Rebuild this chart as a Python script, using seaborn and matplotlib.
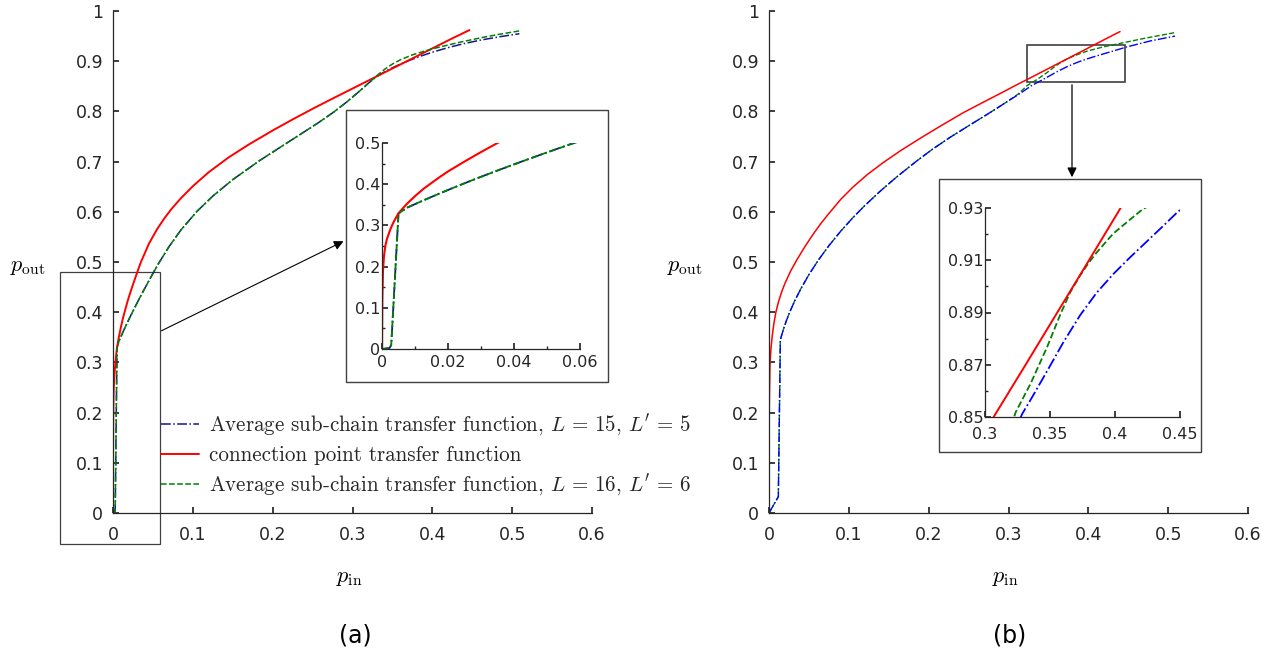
import numpy as np
import pandas as pd
import matplotlib
matplotlib.use('Agg')
import matplotlib.pyplot as plt
import matplotlib.patches as patches
from matplotlib.ticker import FuncFormatter, MultipleLocator, FixedLocator
import seaborn as sns

# ---- panel (a): values ----
a_red_x = [0, 0.0001, 0.0003, 0.0006, 0.001, 0.0015, 0.0025, 0.0035, 0.005, 0.0075, 0.01,
           0.0126, 0.015, 0.0176, 0.02, 0.025, 0.03, 0.035, 0.045, 0.055, 0.065, 0.0735,
           0.085, 0.1, 0.12, 0.1445, 0.17, 0.2, 0.225, 0.251, 0.275, 0.3, 0.325, 0.35,
           0.375, 0.4, 0.425, 0.4465]
a_red_y = [0, 0.12, 0.19, 0.225, 0.25, 0.267, 0.29, 0.308, 0.3296, 0.352, 0.371,
           0.389, 0.403, 0.418, 0.431, 0.455, 0.478, 0.5, 0.5365, 0.5648, 0.5885, 0.6061,
           0.627, 0.651, 0.679, 0.708, 0.734, 0.762, 0.784, 0.806, 0.8255, 0.8455, 0.8655, 0.8855,
           0.9055, 0.9255, 0.9455, 0.962]

# blue and green coincide up to p_in ~ 0.32
a_common_x = [0, 0.0023, 0.0028, 0.005, 0.0076, 0.0125, 0.0176, 0.0225, 0.0277, 0.033,
              0.0378, 0.043, 0.0479, 0.0525, 0.057, 0.07, 0.085, 0.105, 0.125, 0.15, 0.184,
              0.22, 0.257, 0.276, 0.2927, 0.31, 0.32]
a_common_y = [0, 0.0024, 0.01, 0.329, 0.343, 0.3606, 0.378, 0.3942, 0.4108, 0.4272,
              0.4416, 0.4569, 0.4711, 0.4842, 0.4968, 0.5302, 0.5636, 0.6006, 0.6313, 0.6641, 0.7024,
              0.7393, 0.7772, 0.7981, 0.8186, 0.842, 0.8563]
a_blue_x = a_common_x + [0.33, 0.343, 0.355, 0.37, 0.385, 0.40, 0.42, 0.44, 0.46, 0.485, 0.509]
a_blue_y = a_common_y + [0.8691, 0.8816, 0.8907, 0.9008, 0.9099, 0.9179, 0.9272, 0.9352, 0.9419,
                         0.9489, 0.9547]
a_green_x = a_common_x + [0.33, 0.34, 0.35, 0.36, 0.375, 0.39, 0.41, 0.435, 0.46, 0.485, 0.509]
a_green_y = a_common_y + [0.8706, 0.8836, 0.8943, 0.9028, 0.9126, 0.9201, 0.9286, 0.938, 0.9464,
                          0.9539, 0.9603]

# ---- panel (b) ----
b_red_x = [0, 0.0001, 0.0003, 0.0006, 0.0013, 0.0025, 0.004, 0.006, 0.0086, 0.012, 0.016,
           0.02, 0.027, 0.0347, 0.045, 0.055, 0.065, 0.0743, 0.09, 0.105, 0.123, 0.143, 0.165,
           0.19, 0.215, 0.2434, 0.27, 0.2964, 0.307, 0.33, 0.355, 0.38, 0.402, 0.42, 0.4397]
b_red_y = [0, 0.12, 0.20, 0.24, 0.30, 0.328, 0.352, 0.376, 0.40, 0.4213, 0.4411,
           0.4575, 0.4816, 0.5039, 0.5307, 0.5547, 0.5767, 0.5953, 0.625, 0.649, 0.674, 0.698, 0.722,
           0.747, 0.771, 0.7975, 0.8196, 0.8413, 0.8503, 0.869, 0.8895, 0.91, 0.9281, 0.943, 0.959]

b_common_x = [0, 0.0117, 0.0142, 0.016, 0.018, 0.022, 0.0263, 0.0326, 0.04, 0.05, 0.0618,
              0.075, 0.09, 0.105, 0.12, 0.14, 0.16, 0.185, 0.205, 0.2267, 0.25, 0.27, 0.285,
              0.30]
b_common_y = [0, 0.0325, 0.3446, 0.355, 0.3655, 0.3841, 0.4015, 0.4239, 0.447, 0.4748, 0.5037,
              0.5324, 0.5617, 0.5882, 0.6124, 0.6421, 0.6695, 0.7012, 0.7249, 0.7482, 0.7713, 0.7909,
              0.8058, 0.8212]
b_blue_x = b_common_x + [0.315, 0.32873, 0.33509, 0.3478, 0.36051, 0.37323, 0.38594, 0.39865,
                         0.41137, 0.42408, 0.43679, 0.44823, 0.478, 0.5086]
b_blue_y = b_common_y + [0.8362, 0.8513, 0.8566, 0.8676, 0.8788, 0.8890, 0.8976, 0.9047,
                         0.911, 0.917, 0.923, 0.9285, 0.9405, 0.950]
b_green_x = b_common_x + [0.312, 0.32365, 0.33509, 0.3478, 0.35797, 0.3656, 0.37323, 0.37958,
                          0.38594, 0.39865, 0.41137, 0.41975, 0.44, 0.47, 0.5086]
b_green_y = b_common_y + [0.8344, 0.8519, 0.8628, 0.8768, 0.8893, 0.8978, 0.9042, 0.9089,
                          0.9130, 0.9202, 0.9255, 0.9289, 0.9355, 0.9455, 0.957]

legend_labels = [r"Average sub-chain transfer function, $L\,=\,15$, $L'\,=\,5$",
                 "connection point transfer function",
                 r"Average sub-chain transfer function, $L\,=\,16$, $L'\,=\,6$"]

sns.set_theme(style='ticks')
plt.rcParams['font.family'] = ['DejaVu Sans']
plt.rcParams['mathtext.fontset'] = 'cm'

W, H = 1275, 658
fig = plt.figure(figsize=(W / 100, H / 100), dpi=100)
AX_COL = '#262626'
RED, GREEN = '#ff0000', '#008000'
NAVY, BLUE = '#141490', '#0000ff'


def px_axes(x0, y0, x1, y1):
    # pixel box (top-left origin) -> figure axes
    return fig.add_axes([x0 / W, 1 - y1 / H, (x1 - x0) / W, (y1 - y0) / H])


def style(ax, size):
    for s in ['top', 'right']:
        ax.spines[s].set_visible(False)
    for s in ['left', 'bottom']:
        ax.spines[s].set_color(AX_COL)
        ax.spines[s].set_linewidth(0.9)
    ax.set_facecolor('none')
    ax.tick_params(which='both', direction='in', colors=AX_COL, labelsize=size)
    ax.tick_params(which='major', length=4)
    ax.tick_params(which='minor', length=2.5)
    ax.xaxis.set_major_formatter(FuncFormatter(lambda v, p: '%g' % round(v, 4)))
    ax.yaxis.set_major_formatter(FuncFormatter(lambda v, p: '%g' % round(v, 4)))
    ax.set(xlabel='', ylabel='')


def line(ax, x, y, color, ls, lw, label=None):
    sns.lineplot(x=x, y=y, ax=ax, color=color, linestyle=ls, linewidth=lw,
                 sort=False, estimator=None, label=label)


# ---- main axes ----
ax_a = px_axes(113, 11, 592, 513)
ax_b = px_axes(769, 11, 1248, 513)

line(ax_a, a_blue_x, a_blue_y, NAVY, '-.', 1.1, legend_labels[0])
line(ax_a, a_red_x, a_red_y, RED, '-', 1.4, legend_labels[1])
line(ax_a, a_green_x, a_green_y, GREEN, '--', 1.1, legend_labels[2])

line(ax_b, b_green_x, b_green_y, GREEN, '--', 1.0)
line(ax_b, b_blue_x, b_blue_y, BLUE, '-.', 1.0)
line(ax_b, b_red_x, b_red_y, RED, '-', 1.1)

for ax in (ax_a, ax_b):
    ax.set_xlim(0, 0.6)
    ax.set_ylim(0, 1)
    ax.xaxis.set_major_locator(MultipleLocator(0.1))
    ax.yaxis.set_major_locator(MultipleLocator(0.1))
    style(ax, 12.5)
    ax.tick_params(axis='x', pad=9)
    ax.tick_params(axis='y', pad=7)

ax_a.legend(loc='upper left', bbox_to_anchor=(161 / W, 1 - 413 / H),
            bbox_transform=fig.transFigure, frameon=False,
            prop={'family': 'cmr10', 'size': 15.1}, handlelength=1.8,
            handletextpad=0.5, labelspacing=0.35, borderaxespad=0, borderpad=0)

# zoom rectangles on the main axes
ax_a.add_patch(patches.Rectangle((-0.066, -0.062), 0.125, 0.543, fill=False,
                                 ec='#404040', lw=0.9, clip_on=False))
ax_b.add_patch(patches.Rectangle((0.323, 0.859), 0.123, 0.073, fill=False,
                                 ec='#404040', lw=1.2, clip_on=False))

# inset frames
for (x0, y0, x1, y1) in [(346, 110, 608, 382), (939, 179, 1201, 452)]:
    fig.add_artist(patches.Rectangle((x0 / W, 1 - y1 / H), (x1 - x0) / W, (y1 - y0) / H,
                                     transform=fig.transFigure, fill=False,
                                     ec='#404040', lw=1.0))

# arrows
fig.add_artist(patches.FancyArrowPatch((159 / W, 1 - 332 / H), (346 / W, 1 - 240 / H),
                                       transform=fig.transFigure, arrowstyle='-|>',
                                       mutation_scale=14, color='black', lw=0.8))
fig.add_artist(patches.FancyArrowPatch((1072 / W, 1 - 82 / H), (1072 / W, 1 - 180 / H),
                                       transform=fig.transFigure, arrowstyle='-|>',
                                       mutation_scale=14, color='black', lw=0.9))

# ---- insets ----
in_a = px_axes(382, 143, 580, 349)
line(in_a, a_blue_x, a_blue_y, NAVY, '-.', 1.3)
line(in_a, a_red_x, a_red_y, RED, '-', 1.5)
line(in_a, a_green_x, a_green_y, GREEN, '--', 1.3)
in_a.set_xlim(0, 0.06)
in_a.set_ylim(0, 0.5)
in_a.xaxis.set_major_locator(FixedLocator([0, 0.02, 0.04, 0.06]))
in_a.xaxis.set_minor_locator(MultipleLocator(0.01))
in_a.yaxis.set_major_locator(MultipleLocator(0.1))
in_a.yaxis.set_minor_locator(MultipleLocator(0.05))
style(in_a, 11.5)
in_a.tick_params(axis='x', pad=4)
in_a.tick_params(axis='y', pad=1)

in_b = px_axes(985, 208, 1180, 417)
line(in_b, b_green_x, b_green_y, GREEN, '--', 1.3)
line(in_b, b_blue_x, b_blue_y, BLUE, '-.', 1.3)
line(in_b, b_red_x, b_red_y, RED, '-', 1.4)
in_b.set_xlim(0.3, 0.45)
in_b.set_ylim(0.85, 0.93)
in_b.xaxis.set_major_locator(FixedLocator([0.3, 0.35, 0.4, 0.45]))
in_b.yaxis.set_major_locator(FixedLocator([0.85, 0.87, 0.89, 0.91, 0.93]))
in_b.yaxis.set_minor_locator(FixedLocator([0.86, 0.88, 0.90, 0.92]))
style(in_b, 11.5)
in_b.tick_params(axis='x', pad=7)
in_b.tick_params(axis='y', pad=1)

# axis labels and panel captions
for xl, xc in [(10, 349), (667, 1005)]:
    fig.text(xl / W, 1 - 267 / H, r'$p_{\mathrm{out}}$', ha='left', va='center',
             fontsize=16, color='black')
    fig.text(xc / W, 1 - 578 / H, r'$p_{\mathrm{in}}$', ha='center', va='center',
             fontsize=16, color='black')
fig.text(355 / W, 1 - 636 / H, '(a)', ha='center', va='center', fontsize=17, color='black')
fig.text(1010 / W, 1 - 636 / H, '(b)', ha='center', va='center', fontsize=17, color='black')

fig.savefig('out.png', dpi=100, facecolor='white')
